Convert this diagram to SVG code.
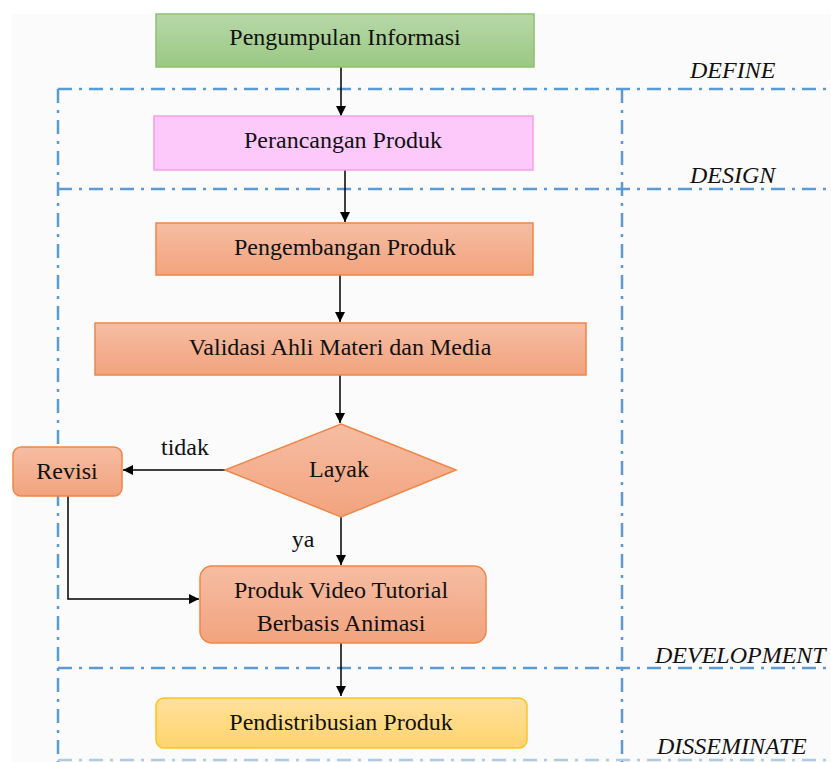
<svg xmlns="http://www.w3.org/2000/svg" width="831" height="762" viewBox="0 0 831 762">
<defs>
<linearGradient id="gGreen" x1="0" y1="0" x2="0" y2="1"><stop offset="0" stop-color="#b7d8a9"/><stop offset="1" stop-color="#9bc883"/></linearGradient>
<linearGradient id="gOrange" x1="0" y1="0" x2="0" y2="1"><stop offset="0" stop-color="#f6bda3"/><stop offset="1" stop-color="#f2a37e"/></linearGradient>
<linearGradient id="gYellow" x1="0" y1="0" x2="0" y2="1"><stop offset="0" stop-color="#ffe09c"/><stop offset="1" stop-color="#ffd46e"/></linearGradient>
<marker id="arr" viewBox="0 0 10 10" refX="10" refY="5" markerWidth="10" markerHeight="10" markerUnits="userSpaceOnUse" orient="auto"><path d="M0,0 L10,5 L0,10 z" fill="#000"/></marker>
</defs>
<style>
.t{font-family:'Liberation Serif',serif;font-size:24px;fill:#111;text-anchor:middle}
.lab{font-family:'Liberation Serif',serif;font-size:24px;font-style:italic;fill:#111}
.dash{stroke:#5b9bd5;stroke-width:2.5;fill:none;stroke-dasharray:14 7 3 7}
.orange{fill:url(#gOrange);stroke:#ef8648;stroke-width:1.5}
.conn{stroke:#000;stroke-width:1.5;fill:none;marker-end:url(#arr)}
</style>
<rect x="12" y="14" width="819" height="748" fill="#fbfbfb"/>
<g id="phases">
<line class="dash" x1="58" y1="89" x2="831" y2="89"/>
<line class="dash" x1="58" y1="189" x2="831" y2="189"/>
<line class="dash" x1="58" y1="668" x2="831" y2="668"/>
<line class="dash" x1="58" y1="760" x2="831" y2="760" stroke-opacity="0.5"/>
<line class="dash" x1="58" y1="89" x2="58" y2="762"/>
<line class="dash" x1="622" y1="89" x2="622" y2="762"/>
<text class="lab" x="690" y="78">DEFINE</text>
<text class="lab" x="690" y="183">DESIGN</text>
<text class="lab" x="655" y="663">DEVELOPMENT</text>
<text class="lab" x="657" y="754">DISSEMINATE</text>
</g>
<g id="connectors">
<line class="conn" x1="341" y1="67" x2="341" y2="116"/>
<line class="conn" x1="345" y1="170" x2="345" y2="222"/>
<line class="conn" x1="340" y1="275" x2="340" y2="322"/>
<line class="conn" x1="340" y1="375" x2="340" y2="423"/>
<line class="conn" x1="341" y1="517" x2="341" y2="565"/>
<line class="conn" x1="341" y1="643" x2="341" y2="696"/>
<line class="conn" x1="225" y1="470" x2="123" y2="470"/>
<polyline class="conn" points="68,496 68,599 199,599"/>
<text class="t" x="185" y="455">tidak</text>
<text class="t" x="303" y="547">ya</text>
</g>
<g id="n1"><rect x="156" y="14" width="378" height="53" fill="url(#gGreen)" stroke="#8cc16d" stroke-width="1.5"/><text class="t" x="345" y="45">Pengumpulan Informasi</text></g>
<g id="n2"><rect x="154" y="116" width="379" height="54" fill="#fdc9fb" stroke="#f79fe6" stroke-width="1.5"/><text class="t" x="343" y="148">Perancangan Produk</text></g>
<g id="n3"><rect x="156" y="223" width="377" height="52" class="orange"/><text class="t" x="345" y="255">Pengembangan Produk</text></g>
<g id="n4"><rect x="95" y="323" width="491" height="52" class="orange"/><text class="t" x="340" y="355">Validasi Ahli Materi dan Media</text></g>
<g id="n5"><polygon points="341,424 456,470 341,517 225,470" class="orange"/><text class="t" x="339" y="477">Layak</text></g>
<g id="n6"><rect x="13" y="447" width="109" height="49" rx="8" class="orange"/><text class="t" x="67" y="479">Revisi</text></g>
<g id="n7"><rect x="200" y="566" width="286" height="77" rx="12" class="orange"/><text class="t" x="341" y="598">Produk Video Tutorial</text><text class="t" x="341" y="631">Berbasis Animasi</text></g>
<g id="n8"><rect x="156" y="698" width="371" height="50" rx="8" fill="url(#gYellow)" stroke="#ffc31a" stroke-width="1.5"/><text class="t" x="341" y="730">Pendistribusian Produk</text></g>
</svg>
